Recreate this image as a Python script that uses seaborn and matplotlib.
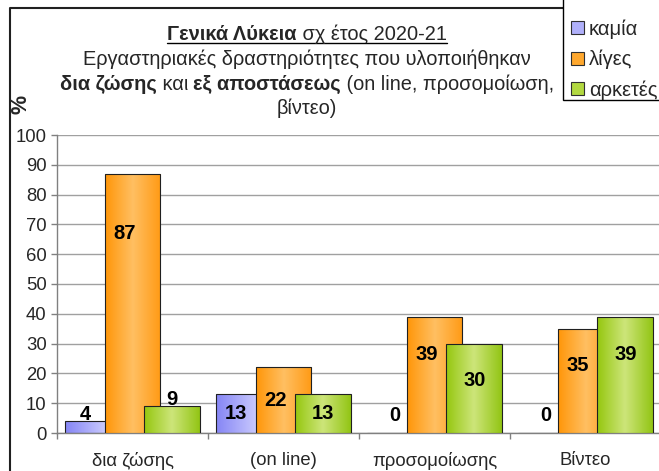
import matplotlib
matplotlib.use("Agg")
import matplotlib.pyplot as plt
import seaborn as sns
import pandas as pd
import numpy as np
from matplotlib.colors import LinearSegmentedColormap
from matplotlib.patches import Rectangle, Patch
from matplotlib.lines import Line2D

# data
categories = ["δια ζώσης", "(on line)", "προσομοίωσης", "Βίντεο"]
series = ["καμία", "λίγες", "αρκετές"]
kamia = [4, 13, 0, 0]
liges = [87, 22, 39, 35]
arketes = [9, 13, 30, 39]
y_ticks = list(range(0, 101, 10))

title_lines = [
    [("Γενικά Λύκεια", "bold"), (" σχ έτος 2020-21", "normal")],
    [("Εργαστηριακές δραστηριότητες που υλοποιήθηκαν", "normal")],
    [("δια ζώσης", "bold"), (" και ", "normal"), ("εξ αποστάσεως", "bold"),
     (" (on line, προσομοίωση,", "normal")],
    [("βίντεο)", "normal")],
]

# excel-like gradient fills (left -> right)
gradients = {
    "καμία": ["#8585f5", "#b4b4fb", "#e4e4ff"],
    "λίγες": ["#ff9608", "#ffbf62", "#ff9a14"],
    "αρκετές": ["#95c70e", "#cde57a", "#92c514"],
}
solid = {"καμία": "#b0b0fa", "λίγες": "#ffa82e", "αρκετές": "#b2d840"}

W, H = 659, 471

df = pd.DataFrame({
    "category": categories * 3,
    "series": [s for s in series for _ in categories],
    "value": kamia + liges + arketes,
})

sns.set_style("white")
plt.rcParams["font.family"] = ["Liberation Sans", "DejaVu Sans"]

fig = plt.figure(figsize=(W / 100, H / 100), dpi=100)
ax = fig.add_axes([57 / W, (H - 433) / H, 604 / W, 298 / H])

sns.barplot(data=df, x="category", y="value", hue="series", order=categories,
            hue_order=series, palette=solid, width=0.79, saturation=1,
            edgecolor="#202020", linewidth=0.8, legend=False, ax=ax)

bar_w = 0.368
for i, (name, cont) in enumerate(zip(series, ax.containers)):
    cmap = LinearSegmentedColormap.from_list(name, gradients[name])
    for j, bar in enumerate(cont):
        cx = bar.get_x() + bar.get_width() / 2
        bar.set_x(cx - bar_w / 2)
        bar.set_width(bar_w)
        bar.set_zorder(2 + i)
        h = bar.get_height()
        if h > 0:
            grad = np.linspace(0, 1, 256).reshape(1, -1)
            im = ax.imshow(grad, cmap=cmap, aspect="auto", interpolation="bilinear",
                           extent=[cx - bar_w / 2, cx + bar_w / 2, 0, h],
                           zorder=2 + i - 0.01)
            im.set_clip_path(bar)
        bar.set_facecolor("none")

        # data labels
        if h < 10:
            ly = max(h + 2.2, 5.8)
        else:
            ly = min(max(h / 2, h - 12.5), 0.77 * h)
        lx = cx - 0.05 if (i < 2 and h > 0) else cx
        ax.text(lx, ly, f"{int(h)}", ha="center", va="center", fontsize=14.5,
                fontweight="bold", color="black", zorder=10)

ax.set_xlim(-0.5, 3.5)
ax.set_ylim(0, 100)
ax.set_yticks(y_ticks)
ax.set_xticks(range(len(categories)), categories)
ax.set_xticks(np.arange(-0.5, len(categories), 1), minor=True)
ax.set_xlabel("")
ax.set_ylabel("")
ax.tick_params(axis="y", length=4.5, width=1, color="#808080", direction="out",
               labelsize=13.3, pad=3, left=True)
ax.tick_params(axis="x", which="major", length=0, labelsize=13.3, pad=14)
ax.tick_params(axis="x", which="minor", length=4.5, width=1, color="#808080",
               direction="out", bottom=True)
ax.yaxis.grid(True, color="#a0a0a0", linewidth=1)
ax.set_axisbelow(True)
for side in ["top", "right"]:
    ax.spines[side].set_visible(False)
for side in ["left", "bottom"]:
    ax.spines[side].set_color("#808080")
    ax.spines[side].set_linewidth(1)

# outer chart border (left and top only, the rest is cropped)
fig.add_artist(Line2D([10 / W, 10 / W, 563 / W], [0, 1 - 8 / H, 1 - 8 / H],
                      transform=fig.transFigure, color="#202020", lw=1.5))

# "%" axis label
fig.text(21 / W, 1 - 104 / H, "%", rotation=90, ha="center", va="center",
         fontsize=15.5, fontweight="bold")

# rich-text title, pieces measured and centred per line
renderer = fig.canvas.get_renderer()
center_x = 307
baselines = [40, 65, 90, 114]
for k, (pieces, base) in enumerate(zip(title_lines, baselines)):
    texts = []
    for txt, weight in pieces:
        t = fig.text(0, 1 - base / H, txt, fontsize=14.4, fontweight=weight,
                     ha="left", va="baseline")
        texts.append(t)
    widths = [t.get_window_extent(renderer).width for t in texts]
    x = center_x - sum(widths) / 2
    start = x
    for t, w in zip(texts, widths):
        t.set_x(x / W)
        x += w
    if k == 0:
        fig.add_artist(Line2D([start / W, x / W], [1 - (base + 3) / H] * 2,
                              transform=fig.transFigure, color="black", lw=1))

# legend box (top and right edges are cut off in the reference)
fig.add_artist(Rectangle((563 / W, 1 - 100 / H), 0.3, 0.3, transform=fig.transFigure,
                         facecolor="white", edgecolor="black", lw=1, zorder=4))
handles = [Patch(facecolor=solid[s], edgecolor="#303030", lw=0.8) for s in series]
leg_fs = 14.5
pad = 0.95
fig.legend(handles, series, loc="upper left",
           bbox_to_anchor=((571 - pad * leg_fs * 100 / 72) / W, 1),
           frameon=False, fontsize=leg_fs, handlelength=0.63, handleheight=0.63,
           handletextpad=0.25, labelspacing=0.55, borderpad=pad, borderaxespad=0)

fig.savefig("out.png", dpi=100)
